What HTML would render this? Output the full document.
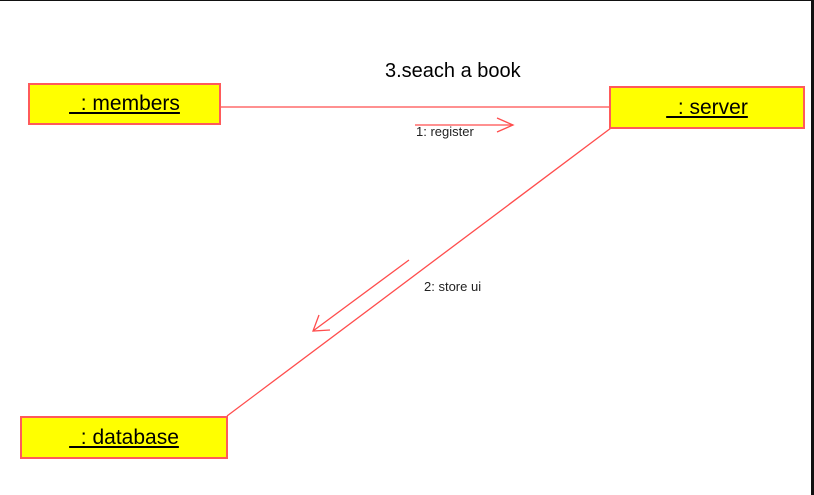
<!DOCTYPE html>
<html><head><meta charset="utf-8"><style>
html,body{margin:0;padding:0;background:#fff;}
body{width:814px;height:495px;overflow:hidden;position:relative;font-family:"Liberation Sans",sans-serif;}
.box{position:absolute;background:#ffff00;border:2px solid #ff5a5a;box-sizing:border-box;display:flex;align-items:center;justify-content:center;font-size:21px;color:#000;}
.box span{text-decoration:underline;white-space:pre;}
</style></head><body>
<div style="position:absolute;left:0;top:0;width:814px;height:1px;background:#111;"></div>
<div style="position:absolute;left:811px;top:0;width:3px;height:495px;background:#111;"></div>
<svg width="814" height="495" style="position:absolute;left:0;top:0">
<line x1="220" y1="107" x2="610" y2="107" stroke="#ff4d4d" stroke-width="1.3"/>
<line x1="611" y1="128" x2="227" y2="416" stroke="#ff4d4d" stroke-width="1.3"/>
<g stroke="#ff4d4d" stroke-width="1.3" fill="none">
<line x1="415" y1="125" x2="513" y2="125"/><polyline points="497,118 513,125 497,132"/></g>
<g stroke="#ff4d4d" stroke-width="1.3" fill="none">
<line x1="409" y1="260" x2="313" y2="331"/><polyline points="319,315 313,331 330,330"/></g>
<text x="385" y="77" font-family="Liberation Sans" font-size="20" fill="#000">3.seach a book</text>
<text x="416" y="136" font-family="Liberation Sans" font-size="13" fill="#222">1: register</text>
<text x="424" y="291" font-family="Liberation Sans" font-size="13" fill="#222">2: store ui</text>
</svg>
<div class="box" style="left:28px;top:83px;width:193px;height:42px;"><span>  : members</span></div>
<div class="box" style="left:609px;top:86px;width:196px;height:43px;"><span>  : server</span></div>
<div class="box" style="left:20px;top:416px;width:208px;height:43px;"><span>  : database</span></div>
</body></html>
